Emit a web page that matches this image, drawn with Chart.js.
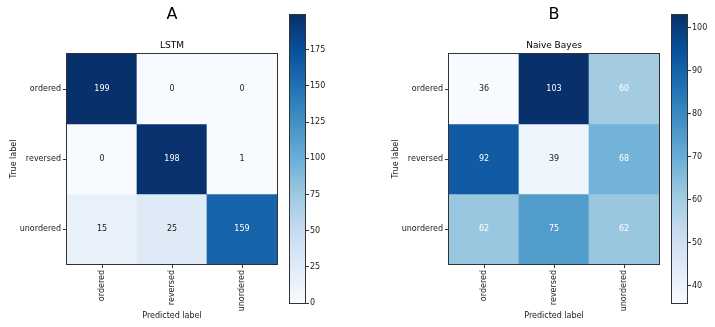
<!DOCTYPE html>
<html>
<head>
<meta charset="utf-8">
<script src="https://cdn.jsdelivr.net/npm/chart.js@4.4.0/dist/chart.umd.min.js"></script>
<style>
  html, body { margin: 0; padding: 0; background: #fff; }
  #wrap { position: relative; width: 715px; height: 327px; overflow: hidden; }
  canvas { position: absolute; top: 0; }
</style>
</head>
<body>
<div id="wrap">
  <canvas id="heatA" style="left:0px" width="285" height="327"></canvas>
  <canvas id="barA" style="left:285px" width="45" height="327"></canvas>
  <canvas id="heatB" style="left:382px" width="285" height="327"></canvas>
  <canvas id="barB" style="left:667px" width="45" height="327"></canvas>
</div>
<script>
// class names (same for predicted and true labels)
const classes = ['ordered', 'reversed', 'unordered'];

// A - LSTM confusion matrix, one array per true label
const lstmOrdered = [199, 0, 0];
const lstmReversed = [0, 198, 1];
const lstmUnordered = [15, 25, 159];

// B - Naive Bayes
const nbOrdered = [36, 103, 60];
const nbReversed = [92, 39, 68];
const nbUnordered = [62, 75, 62];

// colorbar ticks
const lstmTicks = [0, 25, 50, 75, 100, 125, 150, 175];
const nbTicks = [40, 50, 60, 70, 80, 90, 100];

// matplotlib "Blues"
const blues = ['#f7fbff', '#deebf7', '#c6dbef', '#9ecae1', '#6baed6', '#4292c6', '#2171b5', '#08519c', '#08306b'];

const FONT = 'DejaVu Sans';
const INK = '#1a1a1a';
const SMALL = 8;

function hexRgb(h) {
  return [parseInt(h.slice(1, 3), 16), parseInt(h.slice(3, 5), 16), parseInt(h.slice(5, 7), 16)];
}
function colorAt(t) {
  t = Math.max(0, Math.min(1, t));
  const p = t * (blues.length - 1);
  const i = Math.min(Math.floor(p), blues.length - 2);
  const f = p - i;
  const a = hexRgb(blues[i]), b = hexRgb(blues[i + 1]);
  const c = a.map((v, k) => Math.round(v + (b[k] - v) * f));
  return 'rgb(' + c.join(',') + ')';
}

// draws the black frame round the plot area
const framePlugin = {
  id: 'frame',
  afterDraw(chart) {
    const a = chart.chartArea, ctx = chart.ctx;
    ctx.save();
    ctx.strokeStyle = '#333';
    ctx.lineWidth = 1;
    ctx.strokeRect(Math.round(a.left) - 0.5, Math.round(a.top) - 0.5,
      Math.round(a.right - a.left) + 1, Math.round(a.bottom - a.top) + 1);
    ctx.restore();
  }
};

function makeHeatmap(id, sup, name, rows) {
  const flat = rows.flat();
  const lo = Math.min(...flat), hi = Math.max(...flat);
  const thresh = hi / 2;

  const cellText = {
    id: 'cellText',
    afterDatasetsDraw(chart) {
      const ctx = chart.ctx, xs = chart.scales.x, ys = chart.scales.y;
      ctx.save();
      ctx.font = SMALL + 'px "' + FONT + '"';
      ctx.textAlign = 'center';
      ctx.textBaseline = 'middle';
      rows.forEach((vals, r) => {
        vals.forEach((v, c) => {
          ctx.fillStyle = v > thresh ? '#fff' : INK;
          ctx.fillText(String(v), xs.getPixelForValue(c), ys.getPixelForValue(r + 0.5));
        });
      });
      ctx.restore();
    }
  };

  new Chart(document.getElementById(id), {
    type: 'bar',
    data: {
      labels: classes,
      datasets: rows.map((vals, r) => ({
        data: vals.map(() => [r, r + 1]),
        backgroundColor: vals.map(v => colorAt((v - lo) / (hi - lo))),
        borderWidth: 0,
        barPercentage: 1,
        categoryPercentage: 1,
        grouped: false
      }))
    },
    options: {
      responsive: false,
      animation: false,
      layout: { padding: { left: 0, right: 8, top: 0, bottom: 0 } },
      plugins: {
        legend: { display: false },
        tooltip: { enabled: false },
        title: {
          display: true, text: sup, fullSize: false, color: '#000',
          font: { family: FONT, size: 16, weight: 'normal' },
          padding: { top: 5, bottom: 12 }
        },
        subtitle: {
          display: true, text: name, fullSize: false, color: '#000',
          font: { family: FONT, size: 9, weight: 'normal' },
          padding: { top: 4, bottom: 3 }
        }
      },
      scales: {
        x: {
          type: 'category',
          offset: true,
          grid: { offset: false, drawOnChartArea: false, tickLength: 4, color: '#333' },
          border: { display: false },
          ticks: { minRotation: 90, maxRotation: 90, padding: 2, color: INK, font: { family: FONT, size: SMALL } },
          title: { display: true, text: 'Predicted label', color: INK, font: { family: FONT, size: SMALL }, padding: { top: 0, bottom: 6 } },
          afterFit(s) { s.height = 63; }
        },
        y: {
          type: 'linear',
          min: 0, max: 3,
          reverse: true,
          afterBuildTicks(s) { s.ticks = classes.map((_, i) => ({ value: i + 0.5 })); },
          grid: { drawOnChartArea: false, tickLength: 4, color: '#333' },
          border: { display: false },
          ticks: { padding: 2, color: INK, font: { family: FONT, size: SMALL }, callback: (v, i) => classes[i] },
          title: { display: true, text: 'True label', color: INK, font: { family: FONT, size: SMALL }, padding: { top: 9, bottom: 0 } },
          afterFit(s) { s.width = 67; }
        }
      }
    },
    plugins: [cellText, framePlugin]
  });
  return [lo, hi];
}

function makeColorbar(id, range, tickVals) {
  const [lo, hi] = range;
  new Chart(document.getElementById(id), {
    type: 'bar',
    data: {
      labels: [''],
      datasets: [{
        data: [[lo, hi]],
        borderWidth: 0,
        barPercentage: 1,
        categoryPercentage: 1,
        backgroundColor(ctx) {
          const a = ctx.chart.chartArea;
          if (!a) return blues[4];
          const g = ctx.chart.ctx.createLinearGradient(0, a.bottom, 0, a.top);
          blues.forEach((c, i) => g.addColorStop(i / (blues.length - 1), c));
          return g;
        }
      }]
    },
    options: {
      responsive: false,
      animation: false,
      layout: { padding: { left: 5, right: 0, top: 15, bottom: 24 } },
      plugins: { legend: { display: false }, tooltip: { enabled: false } },
      scales: {
        x: { display: false },
        y: {
          type: 'linear',
          position: 'right',
          min: lo, max: hi,
          afterBuildTicks(s) { s.ticks = tickVals.map(v => ({ value: v })); },
          grid: { drawOnChartArea: false, tickLength: 4, color: '#333' },
          border: { display: false },
          ticks: { padding: 1, color: INK, font: { family: FONT, size: SMALL } },
          afterFit(s) { s.width = 25; }
        }
      }
    },
    plugins: [framePlugin]
  });
}

const rangeA = makeHeatmap('heatA', 'A', 'LSTM', [lstmOrdered, lstmReversed, lstmUnordered]);
makeColorbar('barA', rangeA, lstmTicks);
const rangeB = makeHeatmap('heatB', 'B', 'Naive Bayes', [nbOrdered, nbReversed, nbUnordered]);
makeColorbar('barB', rangeB, nbTicks);
</script>
</body>
</html>
